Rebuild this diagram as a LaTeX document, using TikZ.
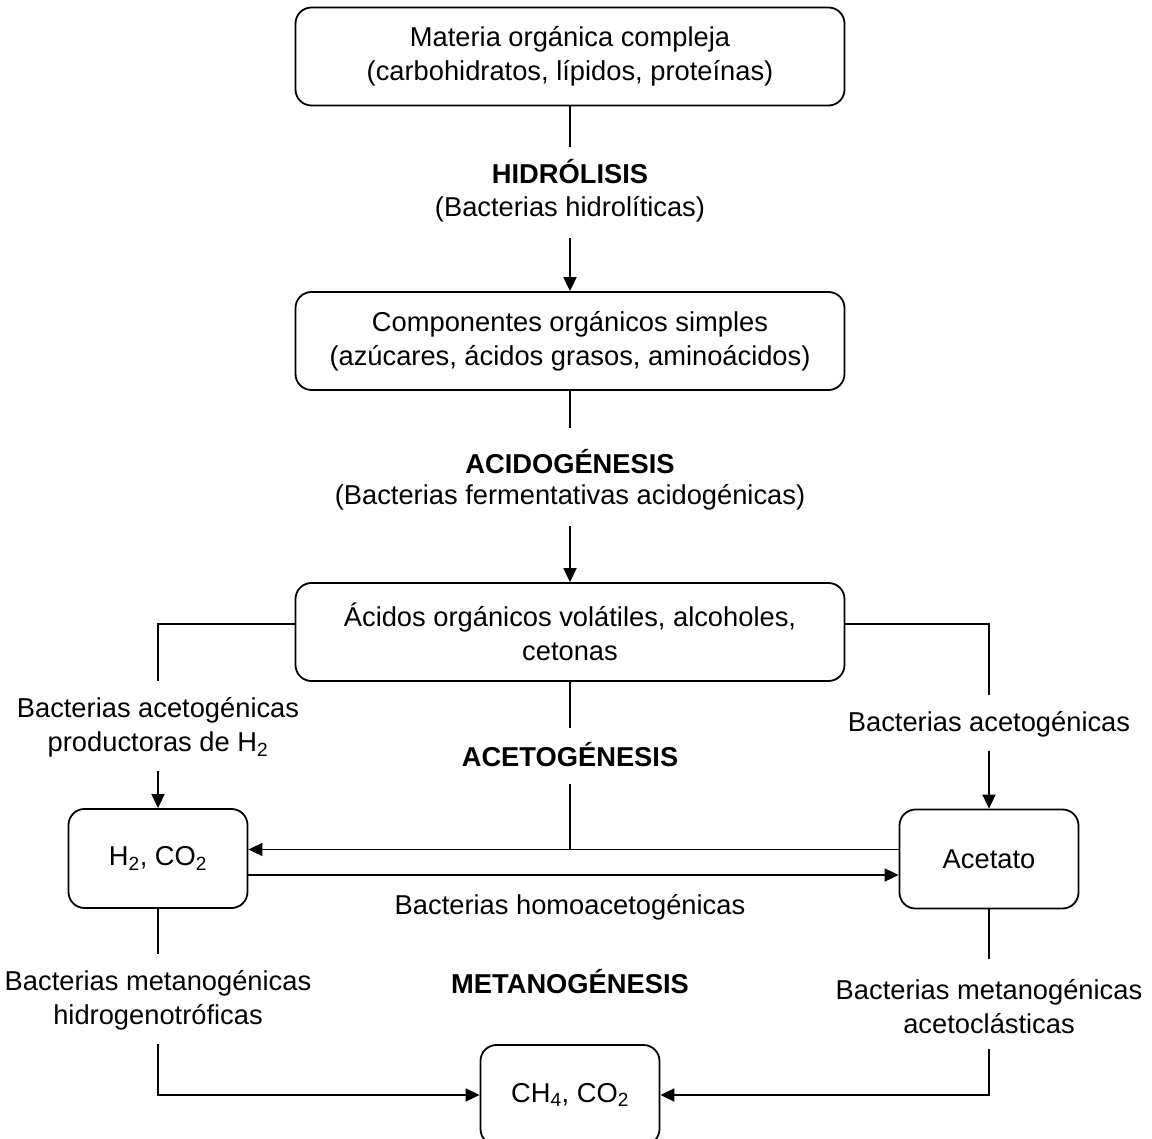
\documentclass[tikz,border=0pt]{standalone}
\usepackage{fontspec}
\setmainfont{Liberation Sans}
\usetikzlibrary{arrows.meta}
\begin{document}
\begin{tikzpicture}[x=1pt,y=-1pt,
  every node/.style={font=\fontsize{27.3}{34}\selectfont, align=center, inner sep=0pt},
  box/.style={draw, line width=1.8pt, rounded corners=16pt},
  bigbox/.style={box, minimum width=549pt, minimum height=98pt},
  smallbox/.style={box, minimum width=179pt, minimum height=99pt},
  conn/.style={line width=1.8pt},
  arr/.style={conn, -{Triangle[length=14pt,width=13pt]}},
  phase/.style={font=\fontsize{27.3}{34}\selectfont\bfseries}]
\useasboundingbox (0,0) rectangle (1152,1139);

% boxes
\node[bigbox] (b1) at (570,56.5) {Materia orgánica compleja\\(carbohidratos, lípidos, proteínas)};
\node[bigbox] (b2) at (570,341) {Componentes orgánicos simples\\(azúcares, ácidos grasos, aminoácidos)};
\node[bigbox] (b3) at (570,632) {Ácidos orgánicos volátiles, alcoholes,\\cetonas};
\node[smallbox] (h2) at (158,858.5) {H\textsubscript{2}, CO\textsubscript{2}};
\node[smallbox] (acet) at (989,859) {Acetato};
\node[smallbox, minimum height=100pt] (ch4) at (570,1095) {CH\textsubscript{4}, CO\textsubscript{2}};

% labels
\node[phase] (hid) at (570,172) {HIDRÓLISIS};
\node (hidb) at (570,209) {(Bacterias hidrolíticas)};
\node[phase] (aci) at (570,462) {ACIDOGÉNESIS};
\node (acib) at (570,497) {(Bacterias fermentativas acidogénicas)};
\node (l1) at (158,727.5) {Bacterias acetogénicas\\productoras de H\textsubscript{2}};
\node (r1) at (989,724) {Bacterias acetogénicas};
\node[phase] (aceto) at (570,755) {ACETOGÉNESIS};
\node (homo) at (570,907) {Bacterias homoacetogénicas};
\node (l2) at (158,1000.5) {Bacterias metanogénicas\\hidrogenotróficas};
\node[phase] (meta) at (570,982) {METANOGÉNESIS};
\node (r2) at (989,1006.5) {Bacterias metanogénicas\\acetoclásticas};

% free ends
\coordinate (c1) at (570,147);
\coordinate (c2) at (570,238);
\coordinate (c3) at (570,428);
\coordinate (c4) at (570,526);
\coordinate (c5) at (158,681);
\coordinate (c6) at (158,771);
\coordinate (c7) at (989,695);
\coordinate (c8) at (989,751);
\coordinate (c9) at (570,728);
\coordinate (c10) at (570,784);
\coordinate (c11) at (570,849.5);
\coordinate (c12) at (158,954);
\coordinate (c13) at (158,1044);
\coordinate (c14) at (989,959);
\coordinate (c15) at (989,1049);

% connectors
\draw[conn] (b1.south) -- (c1);
\draw[arr] (c2) -- (b2.north);
\draw[conn] (b2.south) -- (c3);
\draw[arr] (c4) -- (b3.north);
\draw[conn] ([yshift=8pt]b3.west) -| (c5);
\draw[arr] (c6) -- (h2.north);
\draw[conn] ([yshift=8pt]b3.east) -| (c7);
\draw[arr] (c8) -- (acet.north);
\draw[conn] (b3.south) -- (c9);
\draw[conn] (c10) -- (c11);
\draw[arr] ([yshift=9.5pt]acet.west) -- ([yshift=9pt]h2.east);
\draw[arr] ([yshift=-16.5pt]h2.east) -- ([yshift=-16pt]acet.west);
\draw[conn] (h2.south) -- (c12);
\draw[arr] (c13) |- (ch4.west);
\draw[conn] (acet.south) -- (c14);
\draw[arr] (c15) |- (ch4.east);
\end{tikzpicture}
\end{document}
